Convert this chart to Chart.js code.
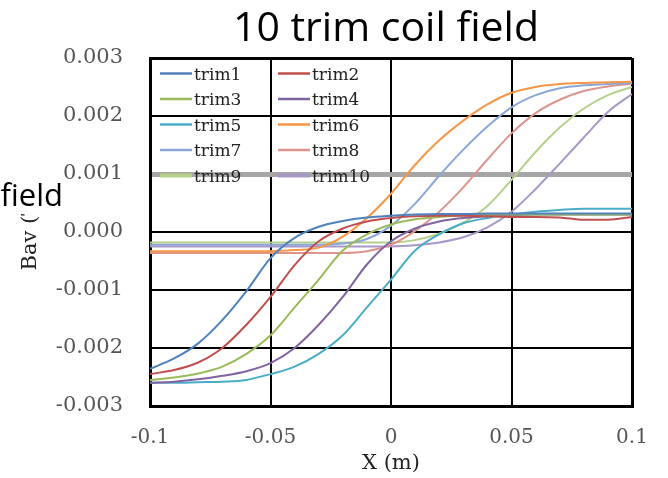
<!DOCTYPE html>
<html><head><meta charset="utf-8">
<script src="https://cdn.jsdelivr.net/npm/chart.js@4.4.1/dist/chart.umd.min.js"></script>
<style>html,body{margin:0;padding:0;background:#fff;} #wrap{position:relative;width:668px;height:478px;}</style>
</head><body><div id="wrap"><canvas id="c" width="668" height="478"></canvas></div>
<script>
const xValues = [-0.10,-0.09,-0.08,-0.07,-0.06,-0.05,-0.04,-0.03,-0.02,-0.01,0.00,0.01,0.02,0.03,0.04,0.05,0.06,0.07,0.08,0.09,0.10];

const trim1  = [-0.00236,-0.00218,-0.00192,-0.00152,-0.00102,-0.00045,-0.00010,0.00009,0.00019,0.00025,0.00028,0.00030,0.00031,0.00031,0.00032,0.00032,0.00032,0.00032,0.00032,0.00032,0.00032];
const trim2  = [-0.00245,-0.00238,-0.00225,-0.00200,-0.00160,-0.00112,-0.00057,-0.00016,0.00006,0.00018,0.00024,0.00027,0.00028,0.00028,0.00027,0.00026,0.00026,0.00025,0.00021,0.00021,0.00026];
const trim3  = [-0.00255,-0.00251,-0.00244,-0.00232,-0.00210,-0.00178,-0.00130,-0.00082,-0.00032,-0.00004,0.00013,0.00022,0.00026,0.00029,0.00030,0.00030,0.00030,0.00030,0.00030,0.00030,0.00030];
const trim4  = [-0.00260,-0.00258,-0.00254,-0.00248,-0.00240,-0.00226,-0.00200,-0.00160,-0.00112,-0.00056,-0.00016,0.00006,0.00018,0.00024,0.00027,0.00029,0.00030,0.00030,0.00030,0.00030,0.00030];
const trim5  = [-0.00260,-0.00260,-0.00259,-0.00258,-0.00255,-0.00245,-0.00232,-0.00210,-0.00178,-0.00130,-0.00082,-0.00032,-0.00004,0.00015,0.00024,0.00030,0.00035,0.00038,0.00040,0.00040,0.00040];
const trim6  = [-0.00033,-0.00033,-0.00033,-0.00033,-0.00033,-0.00033,-0.00031,-0.00027,-0.00008,0.00024,0.00066,0.00116,0.00158,0.00192,0.00220,0.00240,0.00250,0.00255,0.00257,0.00258,0.00259];
const trim7  = [-0.00022,-0.00022,-0.00022,-0.00022,-0.00022,-0.00022,-0.00022,-0.00022,-0.00020,-0.00012,0.00011,0.00049,0.00097,0.00142,0.00182,0.00215,0.00236,0.00248,0.00253,0.00255,0.00257];
const trim8  = [-0.00036,-0.00036,-0.00036,-0.00036,-0.00036,-0.00036,-0.00036,-0.00036,-0.00036,-0.00033,-0.00022,0.00002,0.00035,0.00077,0.00125,0.00170,0.00205,0.00228,0.00243,0.00251,0.00256];
const trim9  = [-0.00018,-0.00018,-0.00018,-0.00018,-0.00018,-0.00018,-0.00018,-0.00018,-0.00018,-0.00018,-0.00018,-0.00014,-0.00003,0.00016,0.00045,0.00090,0.00138,0.00180,0.00213,0.00236,0.00250];
const trim10 = [-0.00025,-0.00025,-0.00025,-0.00025,-0.00025,-0.00025,-0.00025,-0.00025,-0.00025,-0.00025,-0.00025,-0.00023,-0.00018,-0.00009,0.00008,0.00035,0.00074,0.00118,0.00163,0.00207,0.00238];

const seriesLabels = ['trim1','trim2','trim3','trim4','trim5','trim6','trim7','trim8','trim9','trim10'];
const seriesValues = [trim1,trim2,trim3,trim4,trim5,trim6,trim7,trim8,trim9,trim10];
const seriesColors = ['#4f81bd','#c0504d','#9bbb59','#8064a2','#4bacc6','#f79646','#8aa7d8','#dc948c','#b5d08a','#a898c8'];

const chartTitle = '10 trim coil field';
const sideText = 'field';
const xAxisTitle = 'X (m)';
const yAxisTitle = 'Bav (T)';

const SERIF = "'DejaVu Serif', serif";
const SANS = "'Open Sans', sans-serif";

const datasets = seriesLabels.map((lab, i) => ({
  label: lab,
  data: xValues.map((x, j) => ({x: x, y: seriesValues[i][j]})),
  borderColor: seriesColors[i],
  backgroundColor: seriesColors[i],
  borderWidth: 2,
  pointRadius: 0,
  fill: false,
  cubicInterpolationMode: 'monotone'
}));

const isVal = (c, v) => c.tick && Math.abs(c.tick.value - v) < 1e-9;

const decor = {
  id: 'decor',
  afterDatasetsDraw(chart) {
    const ctx = chart.ctx, a = chart.chartArea;
    ctx.save();
    ctx.font = '17px ' + SERIF;
    ctx.textBaseline = 'middle';
    ctx.textAlign = 'left';
    ctx.fillStyle = '#222';
    chart.data.datasets.forEach((ds, i) => {
      const col = i % 2, row = Math.floor(i / 2);
      const lx = a.left + 10 + col * 118;
      const ly = a.top + 15.5 + row * 25.5;
      ctx.strokeStyle = ds.borderColor;
      ctx.lineWidth = row === 4 ? 4 : 2.5;
      ctx.beginPath(); ctx.moveTo(lx, ly); ctx.lineTo(lx + 32, ly); ctx.stroke();
      ctx.fillText(ds.label, lx + 34, ly + 2);
    });
    ctx.restore();
  },
  afterDraw(chart) {
    const ctx = chart.ctx;
    ctx.save();
    ctx.fillStyle = '#000';
    ctx.font = '41px ' + SANS;
    ctx.textAlign = 'center';
    ctx.textBaseline = 'alphabetic';
    ctx.fillText(chartTitle, 386, 41);
    ctx.font = '31px ' + SANS;
    const w = ctx.measureText(sideText).width;
    ctx.fillStyle = '#fff';
    ctx.fillRect(63 - w - 2, 180, w + 4, 34);
    ctx.fillStyle = '#000';
    ctx.textAlign = 'right';
    ctx.fillText(sideText, 63, 206);
    ctx.restore();
  }
};

new Chart(document.getElementById('c'), {
  type: 'line',
  data: { datasets },
  options: {
    responsive: false,
    animation: false,
    events: [],
    layout: { padding: { top: 58, right: 36, left: 0, bottom: 0 } },
    plugins: { legend: { display: false }, title: { display: false }, tooltip: { enabled: false } },
    scales: {
      x: {
        type: 'linear', min: -0.1, max: 0.1,
        afterFit: s => { s.height = 72; },
        ticks: { stepSize: 0.05, autoSkip: false, maxRotation: 0, padding: 20, color: '#555',
          font: { family: SERIF, size: 20 },
          callback: v => String(parseFloat(Number(v).toFixed(2))) },
        grid: { drawTicks: false, color: '#000',
          lineWidth: c => (isVal(c, -0.1) || isVal(c, 0.1)) ? 3 : 2 },
        border: { display: true, color: '#000', width: 3 },
        title: { display: true, text: xAxisTitle, color: '#222', font: { family: SERIF, size: 21 }, padding: { top: 0, bottom: 2 } }
      },
      y: {
        type: 'linear', min: -0.003, max: 0.003,
        afterFit: s => { s.width = 150; },
        ticks: { stepSize: 0.001, autoSkip: false, padding: 27, color: '#555',
          font: { family: SERIF, size: 21 },
          callback: v => Number(v).toFixed(3) },
        grid: { drawTicks: false,
          color: c => isVal(c, 0.001) ? '#a6a6a6' : '#000',
          lineWidth: c => isVal(c, 0.001) ? 5 : ((isVal(c, 0.003) || isVal(c, -0.003)) ? 3 : 2) },
        border: { display: true, color: '#000', width: 3 },
        title: { display: true, text: yAxisTitle, color: '#222', font: { family: SERIF, size: 21 }, padding: { top: 18, bottom: 0 } }
      }
    }
  },
  plugins: [decor]
});
</script>
</body></html>
